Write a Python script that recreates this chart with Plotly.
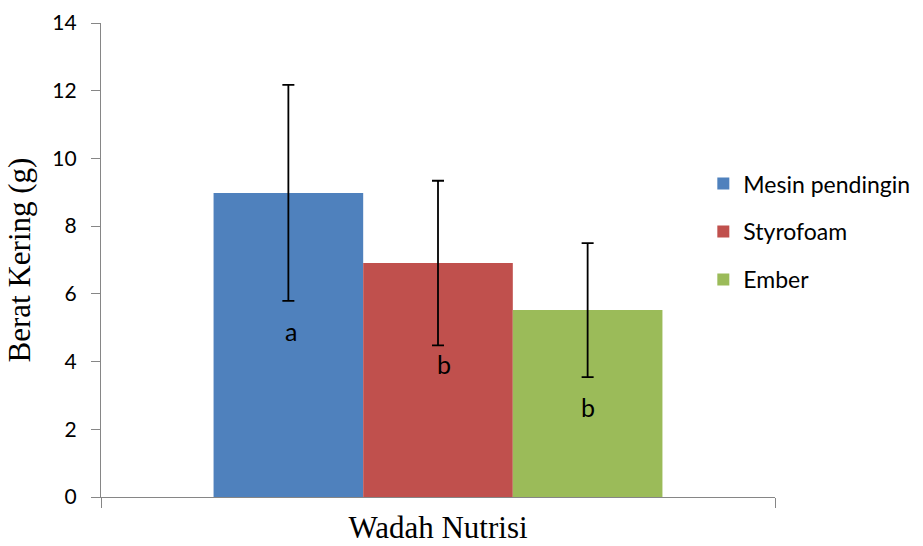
import plotly.graph_objects as go

# Dry weight by nutrient container
category = ["Wadah Nutrisi"]
series_names = ["Mesin pendingin", "Styrofoam", "Ember"]
means = [8.98, 6.91, 5.52]
errors = [3.19, 2.43, 1.98]
letters = ["a", "b", "b"]
colors = ["#4F81BD", "#C0504D", "#9BBB59"]

# letter label positions (offset from category centre, value on y axis)
letter_x = [-0.218, 0.009, 0.2226]
letter_y = [4.90, 3.92, 2.67]

SANS = "Lato, 'Open Sans', sans-serif"
SERIF = "'Liberation Serif', 'Times New Roman', serif"

fig = go.Figure()
for i, name in enumerate(series_names):
    fig.add_trace(go.Bar(
        x=category,
        y=[means[i]],
        name=name,
        marker=dict(color=colors[i], line=dict(width=0)),
        error_y=dict(type="data", array=[errors[i]], visible=True,
                     color="black", thickness=1.8, width=6),
        legendgroup=name,
    ))

for lx, ly, t in zip(letter_x, letter_y, letters):
    fig.add_annotation(x=lx, y=ly, xref="x", yref="y", text=t,
                       showarrow=False, font=dict(family=SANS, size=25, color="black"))

fig.update_layout(
    width=923, height=546,
    margin=dict(l=101, r=148, t=23, b=49, autoexpand=False),
    paper_bgcolor="white", plot_bgcolor="white",
    barmode="group", bargap=0.334, bargroupgap=0,
    font=dict(family=SANS, color="black"),
    legend=dict(xref="container", yref="container",
                x=0.762, xanchor="left", y=0.703, yanchor="top",
                font=dict(family=SANS, size=23, color="black"),
                tracegroupgap=15, bgcolor="rgba(0,0,0,0)"),
    showlegend=True,
)

fig.update_xaxes(
    range=[-0.5, 0.5], showticklabels=False, automargin=False,
    showline=True, linecolor="#868686", linewidth=1.3,
    ticks="outside", tickson="boundaries", ticklen=10, tickcolor="#868686",
    showgrid=False, zeroline=False,
    title=dict(text="Wadah Nutrisi", font=dict(family=SERIF, size=31, color="black"),
               standoff=19),
)
fig.update_yaxes(
    range=[0, 14], dtick=2, tick0=0, automargin=False,
    showline=True, linecolor="#868686", linewidth=1.3,
    ticks="outside", ticklen=9, tickcolor="#868686",
    showgrid=False, zeroline=False,
    tickfont=dict(family=SANS, size=21, color="black"),
    ticklabelstandoff=10,
    title=dict(text="Berat Kering (g)", font=dict(family=SERIF, size=31, color="black"),
               standoff=12),
)

fig.write_html("out.html")
